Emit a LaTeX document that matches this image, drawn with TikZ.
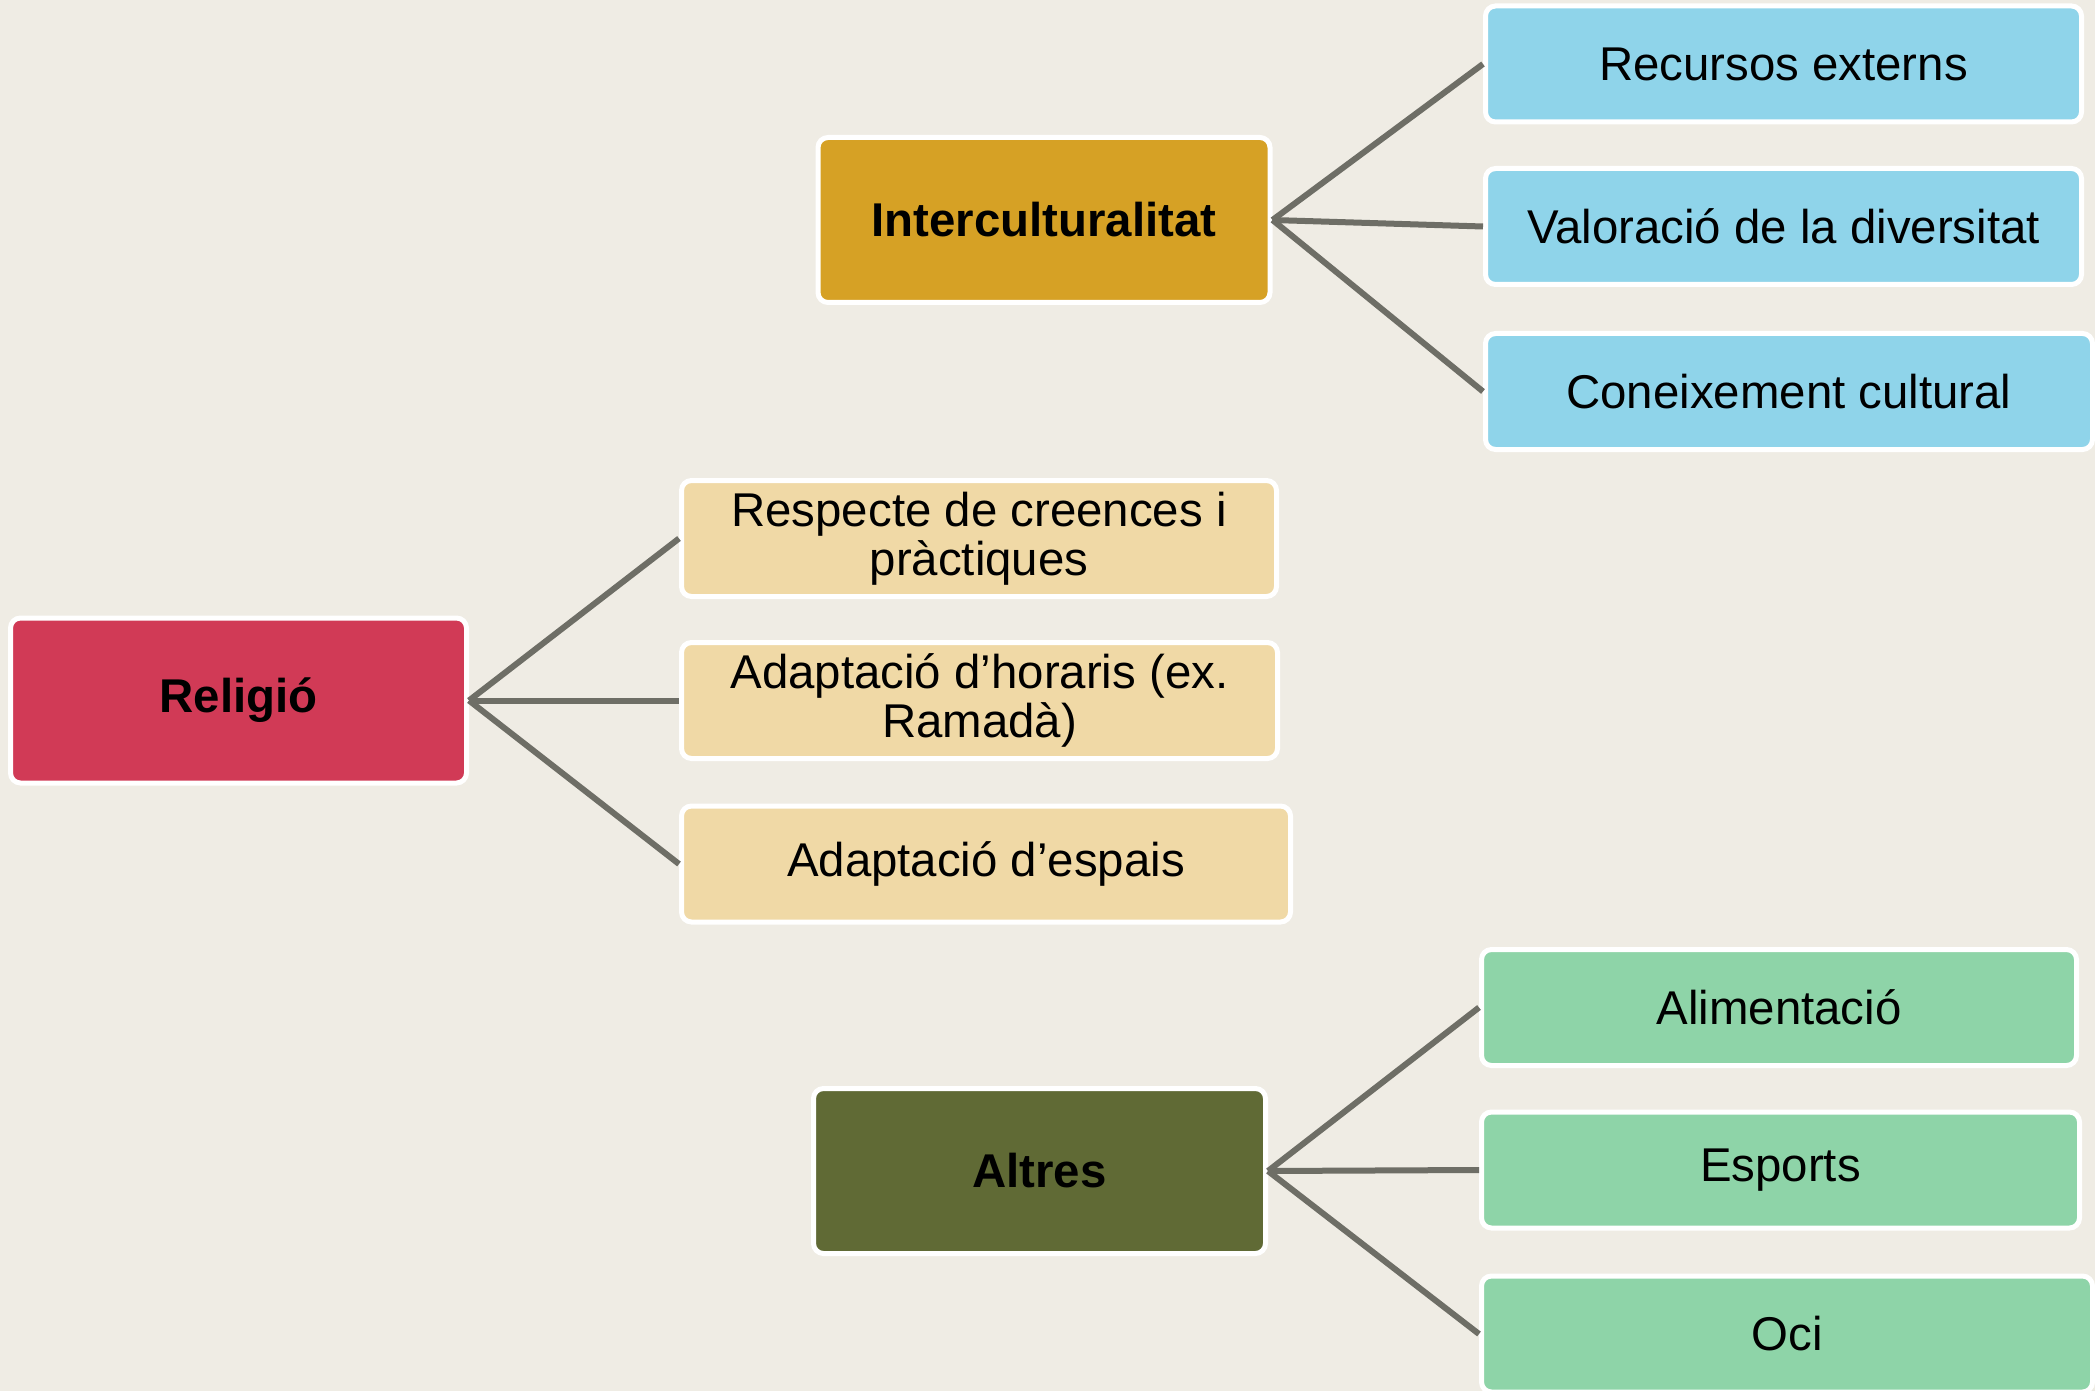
\documentclass[tikz,border=0pt]{standalone}
\usepackage{fontspec}
\setmainfont{Liberation Sans}
\definecolor{bgc}{RGB}{239,236,228}
\definecolor{goldc}{RGB}{214,161,37}
\definecolor{redc}{RGB}{209,58,86}
\definecolor{olivec}{RGB}{96,106,53}
\definecolor{bluec}{RGB}{143,212,234}
\definecolor{tanc}{RGB}{240,217,166}
\definecolor{greenc}{RGB}{142,212,168}
\definecolor{linegray}{RGB}{110,110,102}
\begin{document}
\begin{tikzpicture}[x=0.5pt,y=-0.5pt,
  box/.style={draw=white, line width=2.5pt, rounded corners=5pt, inner sep=0pt,
    align=center, text=black, font=\fontsize{23.7}{24.7}\selectfont},
  hub/.style={box, font=\fontsize{23.7}{24.7}\selectfont\bfseries,
    minimum width=226pt, minimum height=82.5pt},
  leaf/.style={box, minimum height=58pt},
  link/.style={draw=linegray, line width=3pt}]
\useasboundingbox (0,0) rectangle (2095,1391);
\fill[bgc] (0,0) rectangle (2095,1391);

% hubs
\node[hub, fill=goldc] (inter) at (1044,220) {Interculturalitat};
\node[hub, fill=redc, minimum width=228pt] (rel) at (238.5,700.5) {Religió};
\node[hub, fill=olivec] (alt) at (1039.5,1171) {Altres};

% Interculturalitat leaves
\node[leaf, fill=bluec, minimum width=298pt] (rec) at (1783.5,64) {Recursos externs};
\node[leaf, fill=bluec, minimum width=298pt] (val) at (1783.5,226.5) {Valoració de la diversitat};
\node[leaf, fill=bluec, minimum width=303.5pt] (con) at (1789,391.5) {Coneixement cultural};

% Religió leaves
\node[leaf, fill=tanc, minimum width=297.5pt] (resp) at (979,538.5) {Respecte de creences i\\pràctiques};
\node[leaf, fill=tanc, minimum width=298pt] (hor) at (979.5,700.5) {Adaptació d’horaris (ex.\\Ramadà)};
\node[leaf, fill=tanc, minimum width=304.5pt] (esp) at (986,864) {Adaptació d’espais};

% Altres leaves
\node[leaf, fill=greenc, minimum width=297.5pt] (ali) at (1779,1007.5) {Alimentació};
\node[leaf, fill=greenc, minimum width=299pt] (spo) at (1780.5,1170) {Esports};
\node[leaf, fill=greenc, minimum width=305.5pt] (oci) at (1787,1334) {Oci};

% connectors
\draw[link] (inter.east) -- (rec.west);
\draw[link] (inter.east) -- (val.west);
\draw[link] (inter.east) -- (con.west);
\draw[link] (rel.east) -- (resp.west);
\draw[link] (rel.east) -- (hor.west);
\draw[link] (rel.east) -- (esp.west);
\draw[link] (alt.east) -- (ali.west);
\draw[link] (alt.east) -- (spo.west);
\draw[link] (alt.east) -- (oci.west);
\end{tikzpicture}
\end{document}
